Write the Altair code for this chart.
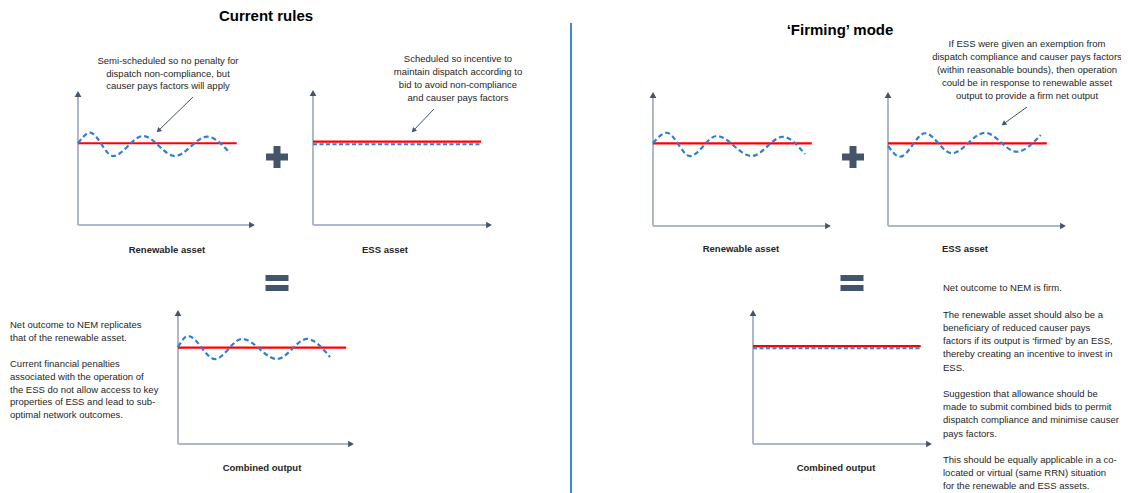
import math
import altair as alt
import pandas as pd

# ---------------- data ----------------
titles = ["Current rules", "‘Firming’ mode"]
panel_names = ["Renewable asset", "ESS asset", "Combined output",
               "Renewable asset", "ESS asset", "Combined output"]

# Output waves in local units: time 0-100 along x axis, output 0-100 up the y axis
ren_cur_t = [0, 6.8, 19.8, 36.7, 54.8, 72.9, 85.9]
ren_cur_v = [61, 68.9, 51.5, 66.4, 51.5, 65.9, 53.7]
comb_cur_t = [0, 5.7, 21, 36.4, 56.3, 73.3, 86.4]
comb_cur_v = [72.4, 80.6, 63.4, 78.4, 63.4, 78.4, 64.9]
ren_firm_t = [0, 7.7, 20.8, 35.8, 55.4, 73, 85.4]
ren_firm_v = [61.9, 69.6, 52.2, 67.2, 52.2, 66.6, 53.7]
ess_firm_t = [0, 6.7, 20.8, 35.8, 54.5, 72.3, 85.8]
ess_firm_v = [59.7, 51.7, 69.2, 54.3, 69.6, 55.4, 67.9]

# Dispatch target (red) per panel, and flat (scheduled / firm) outputs
target_level = [61, 61.7, 71.9, 61.7, 61.7, 73.1]
target_end = [89.7, 93.9, 95.5, 89.2, 89.2, 93.7]
flat_panels = [1, 5]
flat_level = [59.8, 71.4]
flat_end = [93.9, 93.7]

note_current_ren = ["Semi-scheduled so no penalty for", "dispatch non-compliance, but",
                    "causer pays factors will apply"]
note_current_ess = ["Scheduled so incentive to", "maintain dispatch according to",
                    "bid to avoid non-compliance", "and causer pays factors"]
note_firm_ess = ["If ESS were given an exemption from", "dispatch compliance and causer pays factors",
                 "(within reasonable bounds), then operation", "could be in response to renewable asset",
                 "output to provide a firm net output"]
text_left = ["Net outcome to NEM replicates", "that of the renewable asset.", "",
             "Current financial penalties", "associated with the operation of",
             "the ESS do not allow access to key", "properties of ESS and lead to sub-",
             "optimal network outcomes."]
text_right = ["Net outcome to NEM is firm.", "",
              "The renewable asset should also be a", "beneficiary of reduced causer pays",
              "factors if its output is ‘firmed’ by an ESS,", "thereby creating an incentive to invest in",
              "ESS.", "",
              "Suggestion that allowance should be", "made to submit combined bids to permit",
              "dispatch compliance and minimise causer", "pays factors.", "",
              "This should be equally applicable in a co-", "located or virtual (same RRN) situation",
              "for the renewable and ESS assets."]

# ---------------- layout (page pixels) ----------------
frames = [(78, 225, 255, 91), (313, 225, 492, 90), (178, 444, 354, 310),
          (653, 226, 831, 92), (888, 226, 1066, 92), (753, 444, 932, 310)]
label_pos = [(167, 250), (385, 250), (262, 468), (741, 249), (965, 249), (836, 468)]
title_pos = [(266, 16), (840, 30)]
plus_pos = [(277, 157), (853, 157)]
equals_pos = [(277, 283), (852, 283)]
note_pos = [(168, 61, 12.5), (458, 59, 13), (1027, 44, 13)]
left_pos = (10, 325, 12.9)
right_pos = (943, 288.3, 13.2)
arrows = [((193, 97), (157, 132)), ((434, 109), (412, 132)), ((1027, 107), (1002, 125))]
divider = (571, 23, 493)

RED = "#ff0000"
BLUE = "#2f7fcf"
DIV = "#3a8ad8"
AXIS = "#adb9ca"
DARK = "#44546a"
TXT = "#262626"
FONT = "Liberation Sans"


def to_page(p, t, v):
    x0, yb, xr, yt = frames[p]
    return x0 + t / 100 * (xr - x0), yb - v / 100 * (yb - yt)


# waves
wave_rows = []
for p, ts, vs in [(0, ren_cur_t, ren_cur_v), (2, comb_cur_t, comb_cur_v),
                  (3, ren_firm_t, ren_firm_v), (4, ess_firm_t, ess_firm_v)]:
    for i, (t, v) in enumerate(zip(ts, vs)):
        x, y = to_page(p, t, v)
        wave_rows.append({"panel": p, "i": i, "x": x, "y": y})
waves = pd.DataFrame(wave_rows)

# solid segments: axes, red targets, plus/equals, divider, annotation arrows
seg = []
for p, (x0, yb, xr, yt) in enumerate(frames):
    seg.append(dict(x=x0, y=yb, x2=x0, y2=yt + 5, c=AXIS, w=2))
    seg.append(dict(x=x0, y=yb, x2=xr - 5, y2=yb, c=AXIS, w=2))
    xa, ya = to_page(p, 0, target_level[p])
    xb, _ = to_page(p, target_end[p], target_level[p])
    seg.append(dict(x=xa, y=ya, x2=xb, y2=ya, c=RED, w=2.2))
for (cx, cy) in plus_pos:
    seg.append(dict(x=cx - 11, y=cy, x2=cx + 11, y2=cy, c=DARK, w=7))
    seg.append(dict(x=cx, y=cy - 11, x2=cx, y2=cy + 11, c=DARK, w=7))
for (cx, cy) in equals_pos:
    seg.append(dict(x=cx - 11.5, y=cy - 5, x2=cx + 11.5, y2=cy - 5, c=DARK, w=6))
    seg.append(dict(x=cx - 11.5, y=cy + 5, x2=cx + 11.5, y2=cy + 5, c=DARK, w=6))
seg.append(dict(x=divider[0], y=divider[1], x2=divider[0], y2=divider[2], c=DIV, w=2))
heads = []
for (a, b) in arrows:
    dx, dy = b[0] - a[0], b[1] - a[1]
    L = math.hypot(dx, dy)
    seg.append(dict(x=a[0], y=a[1], x2=b[0] - dx / L * 3, y2=b[1] - dy / L * 3, c=DARK, w=1))
    ang = math.degrees(math.atan2(dx, -dy)) % 360
    heads.append(dict(x=b[0] - dx / L * 2, y=b[1] - dy / L * 2, angle=ang, s=30))
for (x0, yb, xr, yt) in frames:
    heads.append(dict(x=x0, y=yt + 3, angle=0, s=45))
    heads.append(dict(x=xr - 3, y=yb, angle=90, s=45))
segs = pd.DataFrame(seg)
heads = pd.DataFrame(heads)

flat = []
for p, lv, e in zip(flat_panels, flat_level, flat_end):
    xa, ya = to_page(p, 0, lv)
    xb, _ = to_page(p, e, lv)
    flat.append(dict(x=xa, y=ya, x2=xb, y2=ya))
flat = pd.DataFrame(flat)

# text tables
labels = pd.DataFrame([{"x": x, "y": y, "t": n} for (x, y), n in zip(label_pos, panel_names)])
ttl = pd.DataFrame([{"x": x, "y": y, "t": n} for (x, y), n in zip(title_pos, titles)])
notes = []
for (x, y0, dy), lines in zip(note_pos, [note_current_ren, note_current_ess, note_firm_ess]):
    for i, s in enumerate(lines):
        notes.append({"x": x, "y": y0 + i * dy, "t": s})
notes = pd.DataFrame(notes)
side = []
for (x, y0, dy), lines in [(left_pos, text_left), (right_pos, text_right)]:
    for i, s in enumerate(lines):
        if s:
            side.append({"x": x, "y": y0 + i * dy, "t": s})
side = pd.DataFrame(side)

X = alt.X("x:Q", scale=alt.Scale(domain=[8, 1121], nice=False, zero=False), axis=None)
Y = alt.Y("y:Q", scale=alt.Scale(domain=[8, 493], nice=False, zero=False, reverse=True), axis=None)

seg_layer = alt.Chart(segs).mark_rule(strokeCap="butt").encode(
    x=X, y=Y, x2="x2:Q", y2="y2:Q",
    color=alt.Color("c:N", scale=None), strokeWidth=alt.StrokeWidth("w:Q", scale=None))
flat_layer = alt.Chart(flat).mark_rule(color=BLUE, strokeWidth=2, strokeDash=[4, 2.5], strokeCap="butt").encode(
    x=X, y=Y, x2="x2:Q", y2="y2:Q")
wave_layer = alt.Chart(waves).mark_line(color=BLUE, strokeWidth=2.2, strokeDash=[5, 3],
                                        interpolate="monotone").encode(
    x=X, y=Y, detail="panel:N", order="i:Q")
head_layer = alt.Chart(heads).mark_point(shape="triangle-up", filled=True, color=DARK, opacity=1).encode(
    x=X, y=Y, angle=alt.Angle("angle:Q", scale=None), size=alt.Size("s:Q", scale=None))
label_layer = alt.Chart(labels).mark_text(font=FONT, fontSize=9.5, fontWeight="bold", color=TXT,
                                          align="center", baseline="middle").encode(x=X, y=Y, text="t:N")
title_layer = alt.Chart(ttl).mark_text(font=FONT, fontSize=15, fontWeight="bold", color="#000000",
                                       align="center", baseline="middle").encode(x=X, y=Y, text="t:N")
note_layer = alt.Chart(notes).mark_text(font=FONT, fontSize=9.5, color=TXT,
                                        align="center", baseline="middle").encode(x=X, y=Y, text="t:N")
side_layer = alt.Chart(side).mark_text(font=FONT, fontSize=9.5, color=TXT,
                                       align="left", baseline="middle").encode(x=X, y=Y, text="t:N")

chart = alt.layer(seg_layer, flat_layer, wave_layer, head_layer, label_layer, title_layer,
                  note_layer, side_layer).properties(
    width=1113, height=485, autosize=alt.AutoSizeParams(type="none"), padding=0,
    background="white"
).configure_view(stroke=None)

chart.save("out.html", embed_options={"renderer": "svg", "actions": False})
